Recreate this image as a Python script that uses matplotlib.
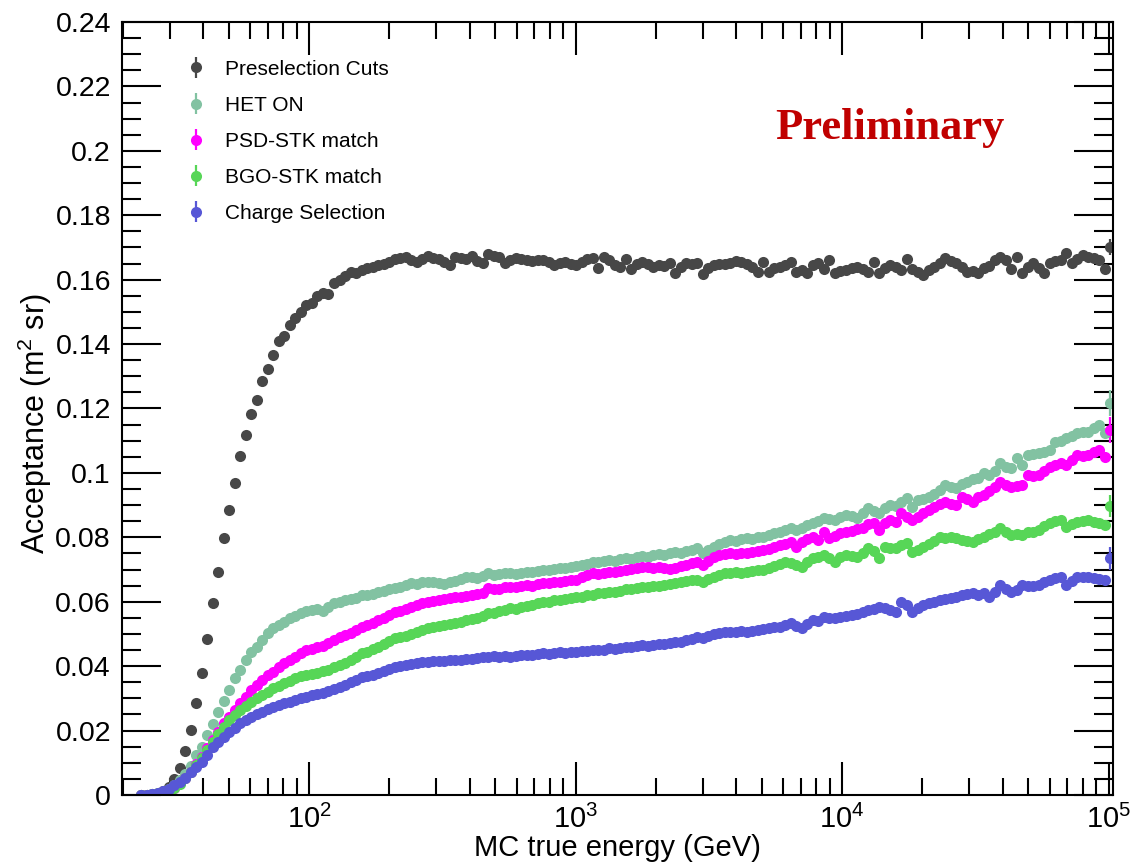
"""
Acceptance vs MC true energy for the successive selection cuts
"""

import numpy as np
import matplotlib
matplotlib.use('Agg')
import matplotlib.pyplot as plt
import matplotlib.ticker as ticker

nan = np.nan

# Energy binning of the histograms (GeV)
E_MIN = 19.85
E_MAX = 1.0387e5
N_BINS = 180

# Acceptance (m^2 sr) per bin for each cut
pre_cuts = [
    nan, nan, nan, 0.0000, 0.0001, 0.0002, 0.0005, 0.0012, 0.0026, 0.0049,
    0.0083, 0.0136, 0.0202, 0.0285, 0.0380, 0.0483, 0.0595, 0.0693, 0.0797, 0.0885,
    0.0970, 0.1053, 0.1119, 0.1184, 0.1227, 0.1285, 0.1323, 0.1365, 0.1411, 0.1425,
    0.1458, 0.1482, 0.1501, 0.1521, 0.1527, 0.1550, 0.1560, 0.1555, 0.1589, 0.1600,
    0.1612, 0.1625, 0.1620, 0.1630, 0.1635, 0.1640, 0.1646, 0.1650, 0.1656, 0.1663,
    0.1667, 0.1671, 0.1662, 0.1656, 0.1665, 0.1673, 0.1668, 0.1663, 0.1655, 0.1646,
    0.1669, 0.1668, 0.1665, 0.1673, 0.1658, 0.1653, 0.1680, 0.1672, 0.1671, 0.1651,
    0.1660, 0.1666, 0.1663, 0.1660, 0.1659, 0.1662, 0.1661, 0.1655, 0.1646, 0.1652,
    0.1656, 0.1650, 0.1646, 0.1655, 0.1663, 0.1666, 0.1635, 0.1671, 0.1660, 0.1646,
    0.1640, 0.1663, 0.1632, 0.1648, 0.1656, 0.1650, 0.1638, 0.1645, 0.1642, 0.1651,
    0.1622, 0.1640, 0.1651, 0.1648, 0.1653, 0.1618, 0.1635, 0.1646, 0.1650, 0.1648,
    0.1653, 0.1659, 0.1655, 0.1649, 0.1640, 0.1625, 0.1654, 0.1625, 0.1636, 0.1640,
    0.1646, 0.1656, 0.1625, 0.1630, 0.1620, 0.1645, 0.1651, 0.1632, 0.1661, 0.1620,
    0.1628, 0.1630, 0.1636, 0.1640, 0.1632, 0.1625, 0.1656, 0.1620, 0.1635, 0.1646,
    0.1638, 0.1630, 0.1663, 0.1632, 0.1625, 0.1615, 0.1630, 0.1638, 0.1652, 0.1666,
    0.1658, 0.1651, 0.1640, 0.1625, 0.1628, 0.1620, 0.1635, 0.1642, 0.1661, 0.1669,
    0.1660, 0.1632, 0.1671, 0.1622, 0.1640, 0.1651, 0.1635, 0.1620, 0.1651, 0.1658,
    0.1661, 0.1684, 0.1651, 0.1665, 0.1677, 0.1670, 0.1666, 0.1661, 0.1632, 0.1702,
]

het_on = [
    nan, nan, nan, 0.0000, 0.0001, 0.0003, 0.0005, 0.0010, 0.0018, 0.0030,
    0.0046, 0.0065, 0.0090, 0.0125, 0.0150, 0.0185, 0.0220, 0.0257, 0.0293, 0.0326,
    0.0362, 0.0388, 0.0419, 0.0445, 0.0460, 0.0481, 0.0502, 0.0518, 0.0528, 0.0538,
    0.0549, 0.0556, 0.0564, 0.0572, 0.0573, 0.0576, 0.0572, 0.0585, 0.0595, 0.0600,
    0.0604, 0.0610, 0.0613, 0.0621, 0.0620, 0.0625, 0.0630, 0.0634, 0.0640, 0.0642,
    0.0645, 0.0652, 0.0659, 0.0655, 0.0660, 0.0662, 0.0660, 0.0658, 0.0655, 0.0660,
    0.0665, 0.0670, 0.0678, 0.0676, 0.0673, 0.0680, 0.0688, 0.0684, 0.0686, 0.0690,
    0.0688, 0.0686, 0.0690, 0.0693, 0.0692, 0.0695, 0.0699, 0.0698, 0.0702, 0.0704,
    0.0706, 0.0709, 0.0712, 0.0714, 0.0718, 0.0724, 0.0722, 0.0726, 0.0730, 0.0728,
    0.0732, 0.0735, 0.0733, 0.0738, 0.0742, 0.0740, 0.0744, 0.0748, 0.0746, 0.0750,
    0.0754, 0.0752, 0.0758, 0.0762, 0.0766, 0.0750, 0.0760, 0.0771, 0.0778, 0.0785,
    0.0792, 0.0790, 0.0795, 0.0797, 0.0794, 0.0800, 0.0802, 0.0806, 0.0812, 0.0818,
    0.0822, 0.0828, 0.0823, 0.0830, 0.0838, 0.0844, 0.0850, 0.0859, 0.0856, 0.0854,
    0.0862, 0.0869, 0.0865, 0.0859, 0.0875, 0.0890, 0.0882, 0.0875, 0.0892, 0.0900,
    0.0897, 0.0910, 0.0921, 0.0895, 0.0916, 0.0920, 0.0926, 0.0935, 0.0947, 0.0962,
    0.0956, 0.0952, 0.0965, 0.0973, 0.0980, 0.0983, 0.0999, 0.0995, 0.1005, 0.1030,
    0.1018, 0.1014, 0.1045, 0.1025, 0.1056, 0.1058, 0.1061, 0.1065, 0.1071, 0.1097,
    0.1100, 0.1107, 0.1115, 0.1123, 0.1126, 0.1128, 0.1138, 0.1149, 0.1123, 0.1216,
]

psd_stk = [
    nan, nan, nan, 0.0000, 0.0000, 0.0001, 0.0003, 0.0006, 0.0012, 0.0022,
    0.0036, 0.0052, 0.0072, 0.0095, 0.0119, 0.0145, 0.0171, 0.0197, 0.0223, 0.0243,
    0.0264, 0.0285, 0.0305, 0.0326, 0.0342, 0.0357, 0.0373, 0.0383, 0.0398, 0.0409,
    0.0419, 0.0429, 0.0440, 0.0450, 0.0453, 0.0458, 0.0464, 0.0471, 0.0482, 0.0490,
    0.0496, 0.0503, 0.0512, 0.0523, 0.0528, 0.0535, 0.0542, 0.0550, 0.0560, 0.0569,
    0.0572, 0.0578, 0.0584, 0.0590, 0.0596, 0.0600, 0.0603, 0.0606, 0.0610, 0.0612,
    0.0614, 0.0616, 0.0618, 0.0620, 0.0624, 0.0626, 0.0642, 0.0640, 0.0638, 0.0645,
    0.0647, 0.0645, 0.0650, 0.0652, 0.0650, 0.0655, 0.0657, 0.0658, 0.0660, 0.0662,
    0.0664, 0.0666, 0.0668, 0.0676, 0.0682, 0.0688, 0.0686, 0.0690, 0.0693, 0.0692,
    0.0696, 0.0699, 0.0702, 0.0705, 0.0709, 0.0707, 0.0706, 0.0708, 0.0705, 0.0702,
    0.0704, 0.0710, 0.0714, 0.0719, 0.0724, 0.0714, 0.0728, 0.0740, 0.0744, 0.0748,
    0.0750, 0.0748, 0.0752, 0.0750, 0.0755, 0.0758, 0.0761, 0.0765, 0.0770, 0.0776,
    0.0780, 0.0786, 0.0771, 0.0785, 0.0795, 0.0802, 0.0792, 0.0818, 0.0797, 0.0805,
    0.0812, 0.0818, 0.0820, 0.0825, 0.0828, 0.0840, 0.0844, 0.0823, 0.0845, 0.0854,
    0.0849, 0.0875, 0.0862, 0.0854, 0.0862, 0.0875, 0.0885, 0.0895, 0.0903, 0.0911,
    0.0905, 0.0900, 0.0926, 0.0918, 0.0911, 0.0925, 0.0931, 0.0945, 0.0955, 0.0973,
    0.0962, 0.0957, 0.0960, 0.0962, 0.0994, 0.0990, 0.0994, 0.1005, 0.1019, 0.1025,
    0.1030, 0.1025, 0.1040, 0.1056, 0.1052, 0.1056, 0.1065, 0.1071, 0.1050, 0.1133,
]

bgo_stk = [
    nan, nan, nan, 0.0000, 0.0000, 0.0001, 0.0003, 0.0006, 0.0012, 0.0022,
    0.0035, 0.0052, 0.0072, 0.0093, 0.0116, 0.0140, 0.0165, 0.0190, 0.0212, 0.0233,
    0.0249, 0.0264, 0.0277, 0.0290, 0.0300, 0.0310, 0.0321, 0.0331, 0.0339, 0.0347,
    0.0355, 0.0362, 0.0368, 0.0373, 0.0376, 0.0380, 0.0384, 0.0388, 0.0398, 0.0405,
    0.0410, 0.0418, 0.0428, 0.0440, 0.0445, 0.0452, 0.0460, 0.0468, 0.0478, 0.0487,
    0.0490, 0.0495, 0.0500, 0.0506, 0.0512, 0.0518, 0.0520, 0.0524, 0.0528, 0.0531,
    0.0535, 0.0538, 0.0542, 0.0546, 0.0550, 0.0556, 0.0564, 0.0566, 0.0570, 0.0574,
    0.0580, 0.0578, 0.0584, 0.0588, 0.0590, 0.0595, 0.0600, 0.0598, 0.0604, 0.0606,
    0.0610, 0.0612, 0.0616, 0.0614, 0.0620, 0.0622, 0.0626, 0.0628, 0.0631, 0.0630,
    0.0634, 0.0638, 0.0640, 0.0643, 0.0647, 0.0645, 0.0648, 0.0650, 0.0652, 0.0655,
    0.0657, 0.0660, 0.0664, 0.0668, 0.0668, 0.0662, 0.0672, 0.0678, 0.0683, 0.0688,
    0.0690, 0.0692, 0.0690, 0.0693, 0.0695, 0.0697, 0.0699, 0.0705, 0.0712, 0.0718,
    0.0724, 0.0720, 0.0715, 0.0709, 0.0722, 0.0735, 0.0740, 0.0745, 0.0735, 0.0724,
    0.0738, 0.0745, 0.0742, 0.0740, 0.0752, 0.0766, 0.0758, 0.0735, 0.0771, 0.0768,
    0.0766, 0.0775, 0.0781, 0.0755, 0.0762, 0.0771, 0.0780, 0.0790, 0.0802, 0.0798,
    0.0800, 0.0797, 0.0792, 0.0788, 0.0786, 0.0795, 0.0802, 0.0810, 0.0818, 0.0828,
    0.0815, 0.0807, 0.0810, 0.0807, 0.0815, 0.0818, 0.0823, 0.0835, 0.0844, 0.0850,
    0.0854, 0.0833, 0.0840, 0.0849, 0.0852, 0.0854, 0.0848, 0.0844, 0.0839, 0.0897,
]

charge_sel = [
    nan, nan, nan, 0.0000, 0.0001, 0.0003, 0.0006, 0.0012, 0.0020, 0.0030,
    0.0040, 0.0052, 0.0070, 0.0088, 0.0103, 0.0125, 0.0148, 0.0166, 0.0181, 0.0195,
    0.0209, 0.0223, 0.0233, 0.0243, 0.0251, 0.0259, 0.0267, 0.0274, 0.0280, 0.0285,
    0.0290, 0.0295, 0.0300, 0.0305, 0.0309, 0.0313, 0.0318, 0.0324, 0.0330, 0.0336,
    0.0342, 0.0350, 0.0358, 0.0367, 0.0370, 0.0374, 0.0380, 0.0386, 0.0392, 0.0398,
    0.0400, 0.0403, 0.0406, 0.0409, 0.0412, 0.0414, 0.0415, 0.0416, 0.0417, 0.0418,
    0.0419, 0.0419, 0.0421, 0.0423, 0.0425, 0.0427, 0.0429, 0.0430, 0.0428, 0.0431,
    0.0429, 0.0432, 0.0434, 0.0436, 0.0435, 0.0438, 0.0440, 0.0438, 0.0441, 0.0443,
    0.0442, 0.0444, 0.0445, 0.0447, 0.0446, 0.0449, 0.0451, 0.0450, 0.0455, 0.0452,
    0.0456, 0.0458, 0.0460, 0.0462, 0.0466, 0.0464, 0.0467, 0.0470, 0.0468, 0.0472,
    0.0476, 0.0474, 0.0480, 0.0484, 0.0492, 0.0487, 0.0495, 0.0500, 0.0502, 0.0507,
    0.0505, 0.0507, 0.0510, 0.0506, 0.0510, 0.0512, 0.0514, 0.0518, 0.0520, 0.0523,
    0.0528, 0.0533, 0.0525, 0.0518, 0.0532, 0.0543, 0.0540, 0.0554, 0.0550, 0.0549,
    0.0552, 0.0556, 0.0559, 0.0562, 0.0568, 0.0574, 0.0578, 0.0585, 0.0580, 0.0575,
    0.0569, 0.0600, 0.0590, 0.0569, 0.0580, 0.0590, 0.0596, 0.0600, 0.0605, 0.0608,
    0.0612, 0.0616, 0.0620, 0.0624, 0.0626, 0.0622, 0.0626, 0.0616, 0.0630, 0.0652,
    0.0640, 0.0631, 0.0635, 0.0652, 0.0648, 0.0650, 0.0652, 0.0660, 0.0668, 0.0675,
    0.0678, 0.0652, 0.0665, 0.0678, 0.0676, 0.0678, 0.0674, 0.0670, 0.0668, 0.0735,
]

# Statistical error of the last (highest energy) bin, other bins are negligible
last_bin_err = [0.0025, 0.0040, 0.0040, 0.0035, 0.0035]

labels = ['Preselection Cuts', 'HET ON', 'PSD-STK match',
          'BGO-STK match', 'Charge Selection']
colors = ['#474747', '#82c2a2', '#ff00ff', '#57d657', '#5757d6']

plt.rcParams['font.family'] = ['Liberation Sans', 'DejaVu Sans']
plt.rcParams['mathtext.default'] = 'regular'

# Bin centres in log space
edges = np.logspace(np.log10(E_MIN), np.log10(E_MAX), N_BINS + 1)
centres = np.sqrt(edges[:-1] * edges[1:])

fig = plt.figure(figsize=(11.31, 8.64), dpi=100)
ax = fig.add_axes([0.1079, 0.0799, 0.8762, 0.8946])

series = [pre_cuts, het_on, psd_stk, bgo_stk, charge_sel]
handles = []
for values, err, color, label in zip(series, last_bin_err, colors, labels):
    yerr = np.zeros(N_BINS)
    yerr[-1] = err
    h = ax.errorbar(centres, values, yerr=yerr, fmt='o', color=color,
                    ecolor=color, elinewidth=1.6, markersize=8.0,
                    markeredgewidth=0, capsize=0, label=label)
    handles.append(h)

ax.set_xscale('log')
ax.set_xlim(E_MIN, E_MAX)
ax.set_ylim(0, 0.24)

# ROOT-like frame: ticks inside on all four sides
ax.yaxis.set_major_locator(ticker.MultipleLocator(0.02))
ax.yaxis.set_minor_locator(ticker.MultipleLocator(0.005))
ax.yaxis.set_major_formatter(ticker.FormatStrFormatter('%g'))
ax.xaxis.set_major_locator(ticker.LogLocator(base=10))
ax.xaxis.set_minor_locator(ticker.LogLocator(base=10, subs=np.arange(2, 10)))
ax.xaxis.set_minor_formatter(ticker.NullFormatter())
ax.tick_params(which='both', direction='in', top=True, right=True, width=1.5)
ax.tick_params(axis='y', which='major', length=28, pad=8, labelsize=20.5)
ax.tick_params(axis='y', which='minor', length=14)
ax.tick_params(axis='x', which='major', length=24, pad=7, labelsize=21)
ax.tick_params(axis='x', which='minor', length=12)
for spine in ax.spines.values():
    spine.set_linewidth(1.5)

ax.set_xlabel('MC true energy (GeV)', fontsize=21)
ax.set_ylabel('Acceptance (m$^{2}$ sr)', fontsize=22)
ax.xaxis.set_label_coords(0.5, -0.068)
ax.xaxis.label.set_va('center')
ax.yaxis.set_label_coords(-0.088, 0.48)
ax.yaxis.label.set_va('center')

ax.legend(handles=handles, loc='upper left', bbox_to_anchor=(0.058, 0.962),
          frameon=False, fontsize=15, handlelength=0.8, handletextpad=1.0,
          labelspacing=0.82, borderaxespad=0)

ax.text(0.659, 0.849, 'Preliminary', transform=ax.transAxes,
        fontsize=32, fontweight='bold', color='#c00000',
        family=['Liberation Serif', 'DejaVu Serif'], va='baseline')

plt.savefig('out.png', dpi=100)
